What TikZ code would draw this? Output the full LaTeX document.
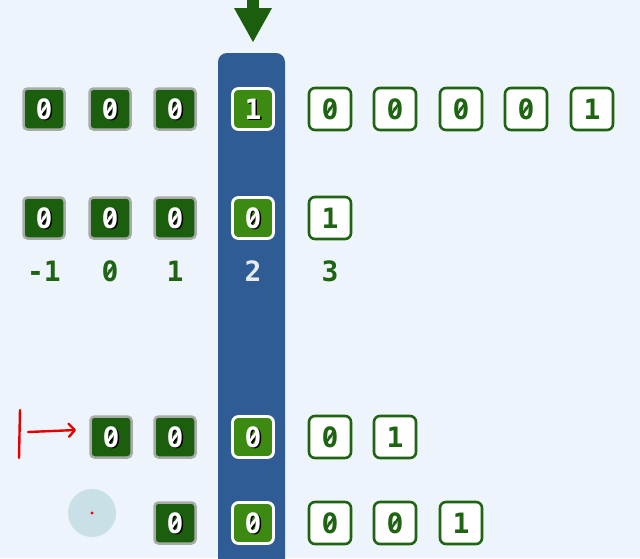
\documentclass[tikz,border=0pt]{standalone}
\usepackage{fontspec}
\newfontfamily\digitfont{DejaVu Sans Mono}
\usetikzlibrary{arrows.meta}
\definecolor{bg}{HTML}{EEF4FB}
\definecolor{dgreen}{HTML}{1B5E0E}
\definecolor{lgreen}{HTML}{3D8A12}
\definecolor{colblue}{HTML}{2F5C94}
\definecolor{txtgreen}{HTML}{1F6412}
\definecolor{halo}{HTML}{A8ACA8}
\definecolor{spot}{HTML}{C9E0E6}
\tikzset{
  digits/.style={font=\digitfont\bfseries\fontsize{28}{28}\selectfont, inner sep=0pt},
  darkcell/.style={digits, fill=dgreen, draw=halo, line width=2.5pt, rounded corners=4pt, minimum size=41pt},
  litcell/.style={digits, fill=lgreen, draw=white, line width=2.8pt, rounded corners=6pt, minimum size=41pt},
  whitecell/.style={digits, fill=white, draw=txtgreen, line width=2.6pt, rounded corners=6pt, minimum size=42pt, text=txtgreen},
  idx/.style={digits, text=txtgreen},
  slash/.style={line width=2.3pt, line cap=round},
  redline/.style={draw=red!90!black, line width=2.4pt, line cap=round}
}
\def\zerochar{0}
% slash through a zero: #1 anchor point, #2 colour
\newcommand\zslash[2]{\draw[slash, #2] ([shift={(-3.2pt,-4.6pt)}]#1) -- ([shift={(3.2pt,4.6pt)}]#1);}
\newcommand\shadedigit[2]{%
  \node[digits, text=black] (#1s) at ([shift={(1.6pt,-1.6pt)}]#1.center) {#2};
  \def\tmpd{#2}\ifx\tmpd\zerochar\zslash{#1s.center}{black}\fi
  \node[digits, text=white] (#1t) at (#1.center) {#2};
  \ifx\tmpd\zerochar\zslash{#1t.center}{white}\fi}
\newcommand\cellD[4]{\node[darkcell] (#1) at (#2,#3) {};\shadedigit{#1}{#4}}
\newcommand\cellL[4]{\node[litcell] (#1) at (#2,#3) {};\shadedigit{#1}{#4}}
\newcommand\cellW[4]{\node[whitecell] (#1) at (#2,#3) {#4};%
  \def\tmpd{#4}\ifx\tmpd\zerochar\zslash{#1.center}{txtgreen}\fi}
\begin{document}
\begin{tikzpicture}[x=1pt,y=-1pt]
\useasboundingbox (0,0) rectangle (640,558);
\clip (0,0) rectangle (640,558);
\fill[bg] (0,0) rectangle (640,558);
% blue column
\fill[colblue] (218,570) [rounded corners=9pt] -- (218,53) -- (285,53) [sharp corners] -- (285,570) -- cycle;
% top arrow
\fill[dgreen] (247,-2) rectangle (259,12);
\fill[dgreen] (234,8) -- (272,8) -- (253,42) -- cycle;
% row 1
\cellD{a1}{44}{109}{0}
\cellD{a2}{110}{109}{0}
\cellD{a3}{175}{109}{0}
\cellL{a4}{253}{109}{1}
\cellW{a5}{330}{109}{0}
\cellW{a6}{395}{109}{0}
\cellW{a7}{461}{109}{0}
\cellW{a8}{526}{109}{0}
\cellW{a9}{592}{109}{1}
% row 2
\cellD{b1}{44}{218}{0}
\cellD{b2}{110}{218}{0}
\cellD{b3}{175}{218}{0}
\cellL{b4}{253}{218}{0}
\cellW{b5}{330}{218}{1}
% indices
\node[idx] (i1) at (44,271) {-1};
\node[idx] (i2) at (110,271) {0};
\zslash{i2.center}{txtgreen}
\node[idx] (i3) at (175,271) {1};
\node[idx, text=white!88!colblue] (i4) at (253,271) {2};
\node[idx] (i5) at (330,271) {3};
% row 3
\cellD{c2}{111}{437}{0}
\cellD{c3}{175}{437}{0}
\cellL{c4}{253}{437}{0}
\cellW{c5}{330}{437}{0}
\cellW{c6}{395}{437}{1}
% row 4
\cellD{d3}{175}{523}{0}
\cellL{d4}{253}{523}{0}
\cellW{d5}{330}{523}{0}
\cellW{d6}{395}{523}{0}
\cellW{d7}{461}{523}{1}
% red annotation
\coordinate (rt) at (20,410);
\coordinate (rb) at (19,458);
\coordinate (rs) at (28,432);
\coordinate (re) at (76,430);
\draw[redline] (rt) -- (rb);
\draw[redline, -{Straight Barb[length=6pt,width=13pt,round]}] (rs) -- (re);
% cursor spot
\fill[spot] (92,513) circle (24);
\fill[red] (92,513) circle (1.6);
\end{tikzpicture}
\end{document}
